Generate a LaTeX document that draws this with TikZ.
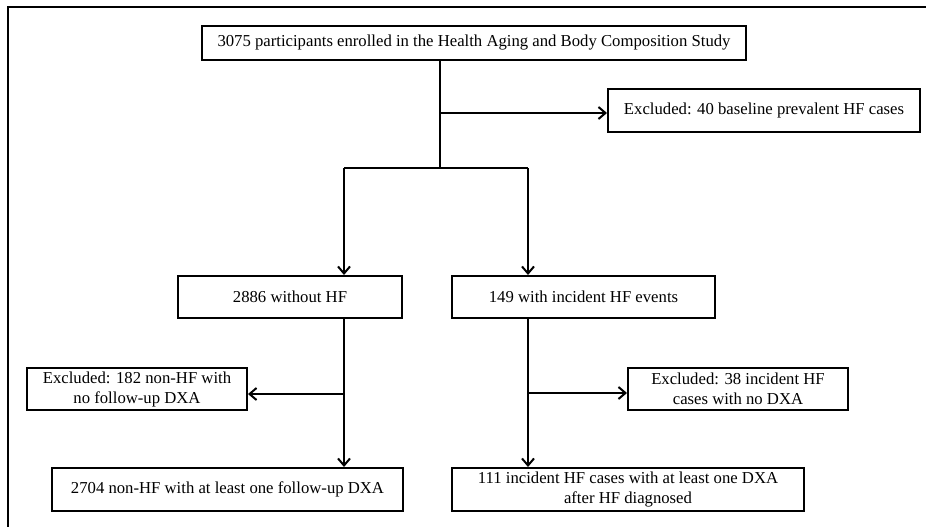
\documentclass[tikz,border=0pt]{standalone}
\usepackage{fontspec}
\setmainfont{Liberation Serif}
\usetikzlibrary{arrows.meta}
\begin{document}
\begin{tikzpicture}[x=1pt,y=-1pt,
  box/.style={draw,line width=2pt,rectangle,inner sep=0pt,align=center,
    font=\fontsize{16.7}{20}\selectfont},
  arr/.style={line width=2pt,-{Straight Barb[length=7pt,width=12pt,line width=2pt]}},
  ln/.style={line width=2pt}]
\useasboundingbox (0,0) rectangle (926,527);
\fill[white] (0,0) rectangle (926,527);
\draw[line width=2.2pt] (8,527) -- (8,7) -- (926,7);
\node[box,minimum width=544pt,minimum height=34pt] (top) at (474,43) {3075 participants enrolled in the Health Aging and Body Composition Study};
\node[box,minimum width=312pt,minimum height=43pt] (ex1) at (764,110.5) {Excluded: 40 baseline prevalent HF cases};
\node[box,minimum width=224pt,minimum height=42pt] (a) at (290,297) {2886 without HF};
\node[box,minimum width=263pt,minimum height=42pt] (b) at (583.5,297) {149 with incident HF events};
\node[box,minimum width=220pt,minimum height=42pt] (ex2) at (137,389) {Excluded: 182 non-HF with\\no follow-up DXA};
\node[box,minimum width=220pt,minimum height=42pt] (ex3) at (738,389) {Excluded: 38 incident HF\\cases with no DXA};
\node[box,minimum width=351pt,minimum height=43pt] (c) at (227.5,489.5) {2704 non-HF with at least one follow-up DXA};
\node[box,minimum width=352pt,minimum height=43pt] (d) at (628,489.5) {111 incident HF cases with at least one DXA\\after HF diagnosed};
\coordinate (j1) at (440,113);
\coordinate (j2) at (440,168);
\coordinate (jl) at (344,168);
\coordinate (jr) at (528,168);
\coordinate (kl) at (344,394);
\coordinate (kr) at (528,393);
\draw[ln] (top.south -| j1) -- (j2);
\draw[arr] (j1) -- (j1 -| ex1.west);
\draw[ln] (jl) -- (jr);
\draw[arr] (jl) -- (jl |- a.north);
\draw[arr] (jr) -- (jr |- b.north);
\draw[arr] (a.south -| jl) -- (c.north -| jl);
\draw[arr] (b.south -| jr) -- (d.north -| jr);
\draw[arr] (kl) -- (kl -| ex2.east);
\draw[arr] (kr) -- (kr -| ex3.west);
\end{tikzpicture}
\end{document}
